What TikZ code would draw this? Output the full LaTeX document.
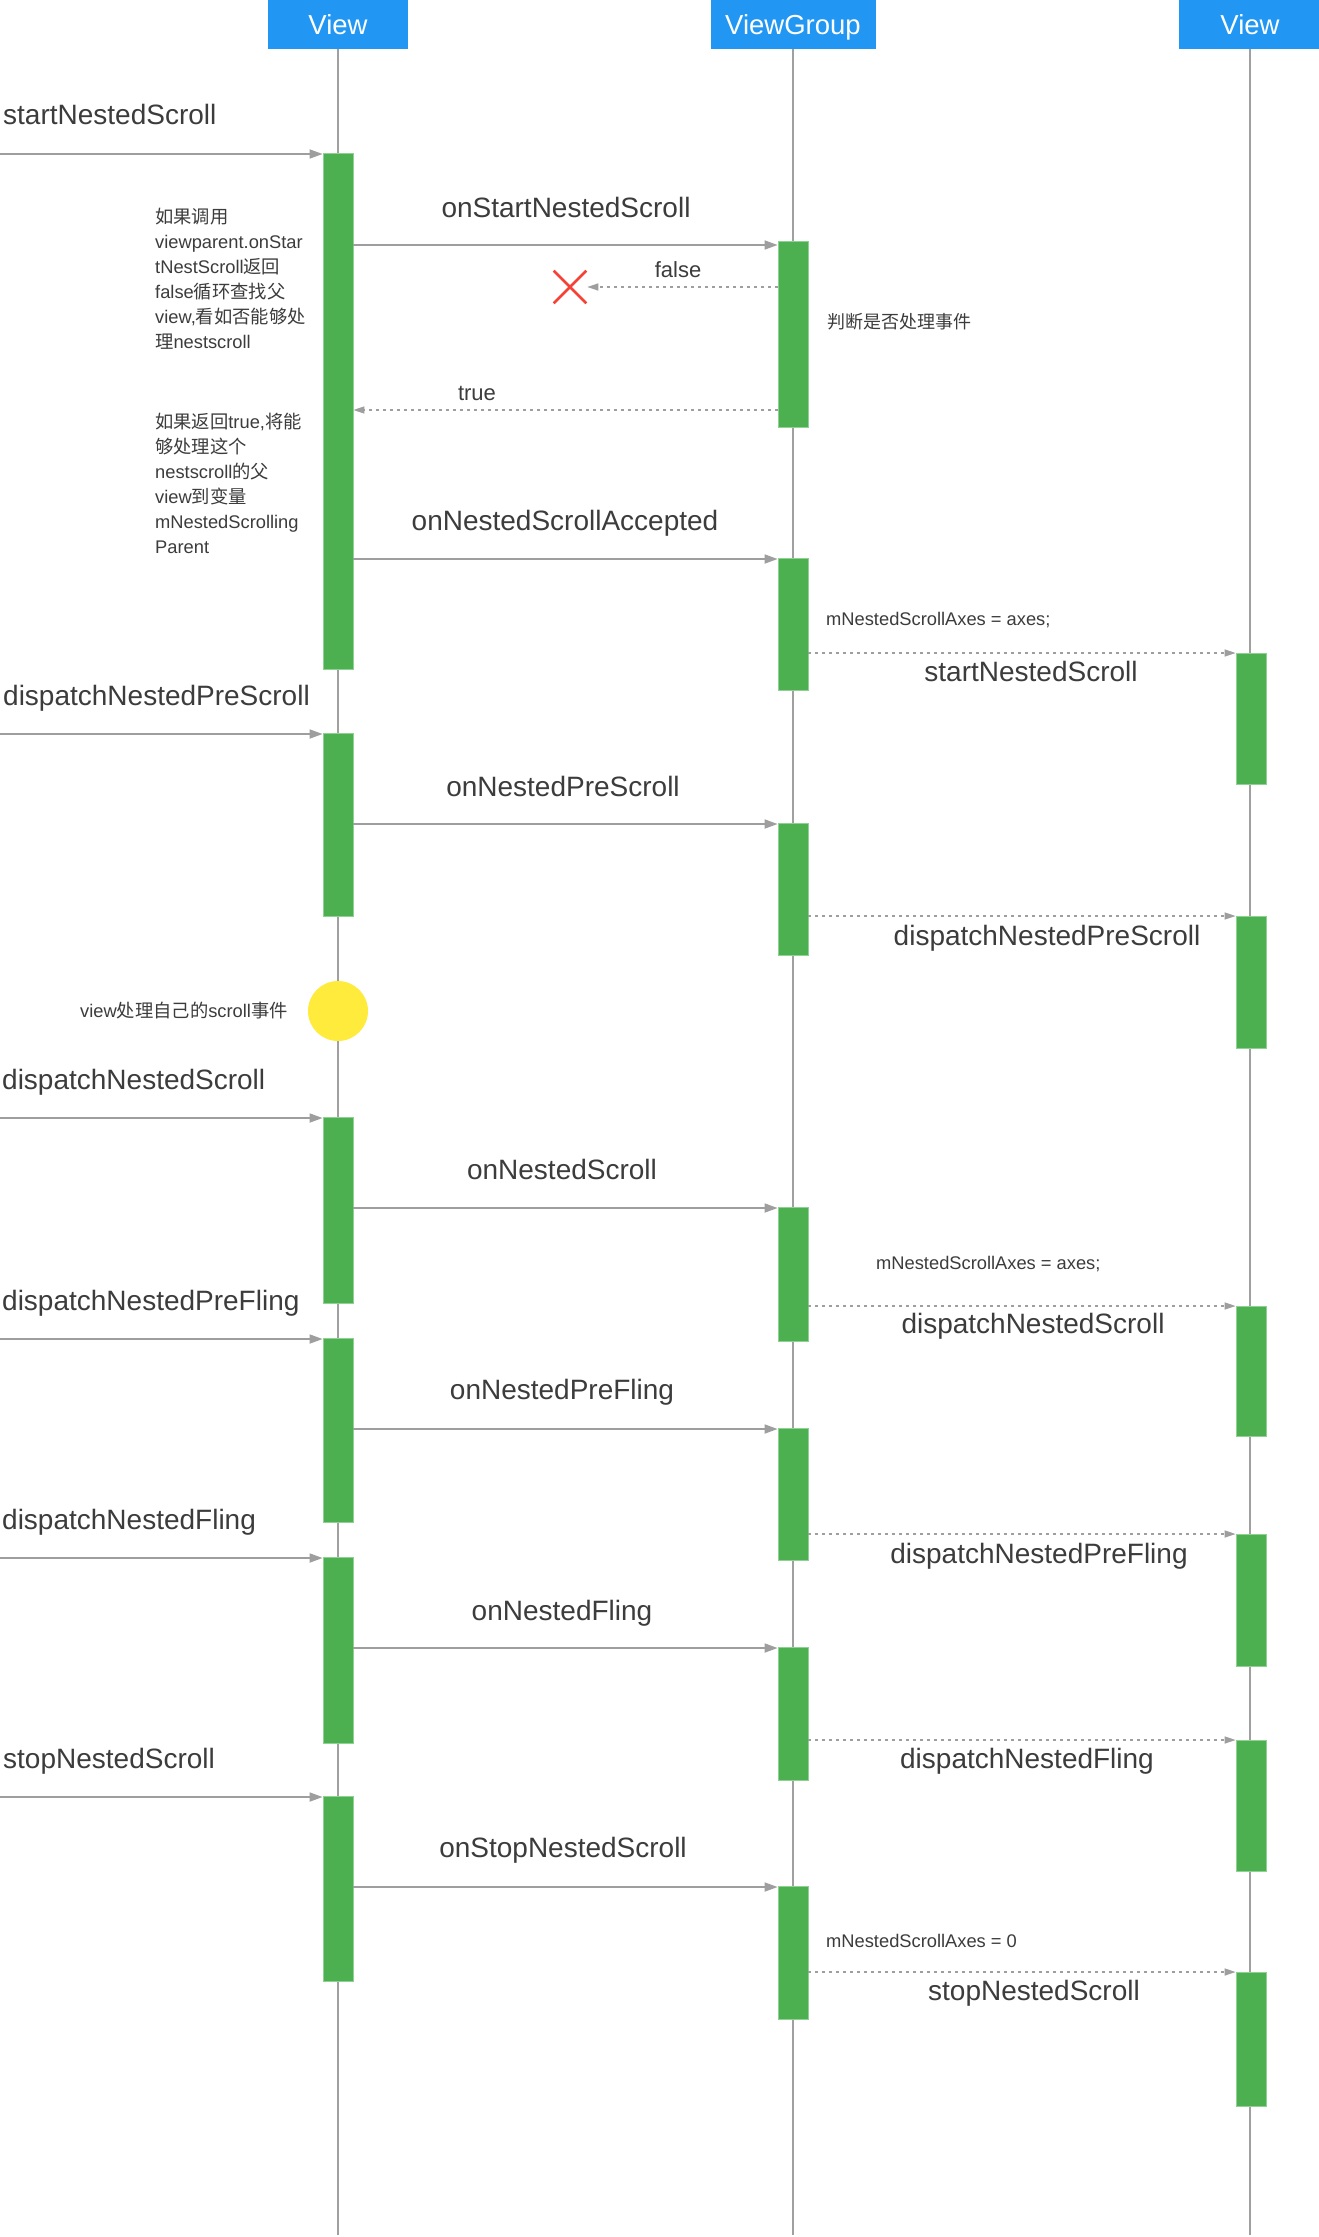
\documentclass[tikz,border=0pt]{standalone}
\usepackage{fontspec}
\setmainfont{Liberation Sans}
\newfontfamily\cjk{Noto Sans CJK SC}
\usetikzlibrary{arrows.meta,shapes.misc}
\definecolor{hdrblue}{HTML}{2196F3}
\definecolor{actg}{HTML}{4CAF50}
\definecolor{actedge}{HTML}{8FD093}
\definecolor{lifec}{HTML}{A0A0A0}
\definecolor{arrc}{HTML}{9E9E9E}
\definecolor{txt}{HTML}{3C3C3C}
\definecolor{yel}{HTML}{FFEB3B}
\definecolor{xred}{HTML}{F44336}
\begin{document}
\begin{tikzpicture}[x=1pt,y=-1pt,
  hdr/.style={fill=hdrblue, draw=none, inner sep=0pt, text=white, minimum height=49pt, text height=19.5pt, text depth=0pt, font=\fontsize{27.5}{32}\selectfont},
  life/.style={draw=lifec, line width=1.3pt},
  bar/.style={fill=actg, draw=actedge, line width=0.8pt, minimum width=30pt, inner sep=0pt, anchor=north},
  msg/.style={draw=arrc, line width=1.7pt, -{Triangle[length=13pt,width=9pt]}},
  ret/.style={draw=arrc, line width=1.4pt, dash pattern=on 3pt off 4pt, -{Triangle[length=11pt,width=7pt]}},
  big/.style={font=\fontsize{28}{32}\selectfont, text=txt, inner sep=0pt, anchor=base},
  bigl/.style={big, anchor=base west},
  note/.style={font=\fontsize{18.3}{25}\selectfont, text=txt, inner sep=0pt, anchor=base west},
  mid/.style={font=\fontsize{22}{26}\selectfont, text=txt, inner sep=0pt, anchor=base},
]
\path[fill=white, use as bounding box] (0,0) rectangle (1319,2237);

% headers
\node[hdr, minimum width=140pt] (h1) at (338,24.5) {View};
\node[hdr, minimum width=165pt] (h2) at (793,24.5) {ViewGroup};
\node[hdr, minimum width=142pt] (h3) at (1250,24.5) {View};
\coordinate (bot) at (0,2235);

% lifelines
\draw[life] (h1.south) -- (h1.south |- bot);
\draw[life] (h2.south) -- (h2.south |- bot);
\draw[life] (h3.south) -- (h3.south |- bot);

% activation bars: View
\node[bar, minimum height=516pt] (a1) at (338,153) {};
\node[bar, minimum height=183pt] (a2) at (338,733) {};
\node[bar, minimum height=186pt] (a3) at (338,1117) {};
\node[bar, minimum height=184pt] (a4) at (338,1338) {};
\node[bar, minimum height=186pt] (a5) at (338,1557) {};
\node[bar, minimum height=185pt] (a6) at (338,1796) {};
% ViewGroup
\node[bar, minimum height=186pt] (g1) at (793,241) {};
\node[bar, minimum height=132pt] (g2) at (793,558) {};
\node[bar, minimum height=132pt] (g3) at (793,823) {};
\node[bar, minimum height=134pt] (g4) at (793,1207) {};
\node[bar, minimum height=132pt] (g5) at (793,1428) {};
\node[bar, minimum height=133pt] (g6) at (793,1647) {};
\node[bar, minimum height=133pt] (g7) at (793,1886) {};
% right View
\node[bar, minimum height=131pt] (r1) at (1251,653) {};
\node[bar, minimum height=132pt] (r2) at (1251,916) {};
\node[bar, minimum height=130pt] (r3) at (1251,1306) {};
\node[bar, minimum height=132pt] (r4) at (1251,1534) {};
\node[bar, minimum height=131pt] (r5) at (1251,1740) {};
\node[bar, minimum height=134pt] (r6) at (1251,1972) {};

% incoming calls from the left
\coordinate (s1) at (0,154);
\coordinate (s2) at (0,734);
\coordinate (s3) at (0,1118);
\coordinate (s4) at (0,1339);
\coordinate (s5) at (0,1558);
\coordinate (s6) at (0,1797);
\draw[msg] (s1) -- (s1 -| a1.west);
\draw[msg] (s2) -- (s2 -| a2.west);
\draw[msg] (s3) -- (s3 -| a3.west);
\draw[msg] (s4) -- (s4 -| a4.west);
\draw[msg] (s5) -- (s5 -| a5.west);
\draw[msg] (s6) -- (s6 -| a6.west);

% View -> ViewGroup
\draw[msg] ([yshift=-4pt]a1.east |- g1.north) -- ([yshift=-4pt]g1.north west);
\draw[msg] ([yshift=-1pt]a1.east |- g2.north) -- ([yshift=-1pt]g2.north west);
\draw[msg] ([yshift=-1pt]a2.east |- g3.north) -- ([yshift=-1pt]g3.north west);
\draw[msg] ([yshift=-1pt]a3.east |- g4.north) -- ([yshift=-1pt]g4.north west);
\draw[msg] ([yshift=-1pt]a4.east |- g5.north) -- ([yshift=-1pt]g5.north west);
\draw[msg] ([yshift=-1pt]a5.east |- g6.north) -- ([yshift=-1pt]g6.north west);
\draw[msg] ([yshift=-1pt]a6.east |- g7.north) -- ([yshift=-1pt]g7.north west);

% ViewGroup -> right View
\draw[ret] (g2.east |- r1.north) -- (r1.north west);
\draw[ret] (g3.east |- r2.north) -- (r2.north west);
\draw[ret] (g4.east |- r3.north) -- (r3.north west);
\draw[ret] (g5.east |- r4.north) -- (r4.north west);
\draw[ret] (g6.east |- r5.north) -- (r5.north west);
\draw[ret] (g7.east |- r6.north) -- (r6.north west);

% returns
\node[cross out, draw=xred, line width=2.6pt, minimum size=30pt, inner sep=0pt] (cross) at (570,287) {};
\draw[ret] (g1.west |- cross) -- ([xshift=1pt]cross.east);
\coordinate (tr) at (0,410);
\draw[ret] (g1.west |- tr) -- (a1.east |- tr);

% yellow circle
\node[circle, fill=yel, minimum size=60pt, inner sep=0pt] (yc) at (338,1011) {};

% left labels
\node[bigl] (ls1) at (3,125) {startNestedScroll};
\node[bigl] (ls2) at (3,705) {dispatchNestedPreScroll};
\node[bigl] (ls3) at (2,1089) {dispatchNestedScroll};
\node[bigl] (ls4) at (2,1310) {dispatchNestedPreFling};
\node[bigl] (ls5) at (2,1529) {dispatchNestedFling};
\node[bigl] (ls6) at (3,1768) {stopNestedScroll};

% middle labels
\node[big] (m1) at (566,218) {onStartNestedScroll};
\node[big] (m2) at (565,530) {onNestedScrollAccepted};
\node[big] (m3) at (563,796) {onNestedPreScroll};
\node[big] (m4) at (562,1179) {onNestedScroll};
\node[big] (m5) at (562,1399) {onNestedPreFling};
\node[big] (m6) at (562,1620) {onNestedFling};
\node[big] (m7) at (563,1857) {onStopNestedScroll};

% right labels
\node[big] (q1) at (1031,681) {startNestedScroll};
\node[big] (q2) at (1047,945) {dispatchNestedPreScroll};
\node[big] (q3) at (1033,1333) {dispatchNestedScroll};
\node[big] (q4) at (1039,1563) {dispatchNestedPreFling};
\node[big] (q5) at (1027,1768) {dispatchNestedFling};
\node[big] (q6) at (1034,2000) {stopNestedScroll};

% return labels
\node[mid] (fl) at (678,277) {false};
\node[mid] (tl) at (477,400) {true};

% notes
\node[note] (nt1) at (155,223) {\vtop{\baselineskip=25pt\lineskiplimit=-50pt\lineskip=0pt
  \hbox{\cjk 如果调用}\hbox{viewparent.onStar}\hbox{tNestScroll{\cjk 返回}}%
  \hbox{false{\cjk 循环查找父}}\hbox{view,{\cjk 看如否能够处}}\hbox{{\cjk 理}nestscroll}}};
\node[note] (nt2) at (155,428) {\vtop{\baselineskip=25pt\lineskiplimit=-50pt\lineskip=0pt
  \hbox{{\cjk 如果返回}true,{\cjk 将能}}\hbox{\cjk 够处理这个}\hbox{nestscroll{\cjk 的父}}%
  \hbox{view{\cjk 到变量}}\hbox{mNestedScrolling}\hbox{Parent}}};
\node[note, font=\fontsize{18}{22}\selectfont] (nt3) at (827,328) {\cjk 判断是否处理事件};
\node[note, font=\fontsize{18.3}{22}\selectfont] (nt4) at (80,1017) {view{\cjk 处理自己的}scroll{\cjk 事件}};
\node[note] (ax1) at (826,625) {mNestedScrollAxes = axes;};
\node[note] (ax2) at (876,1269) {mNestedScrollAxes = axes;};
\node[note] (ax3) at (826,1947) {mNestedScrollAxes = 0};
\end{tikzpicture}
\end{document}
